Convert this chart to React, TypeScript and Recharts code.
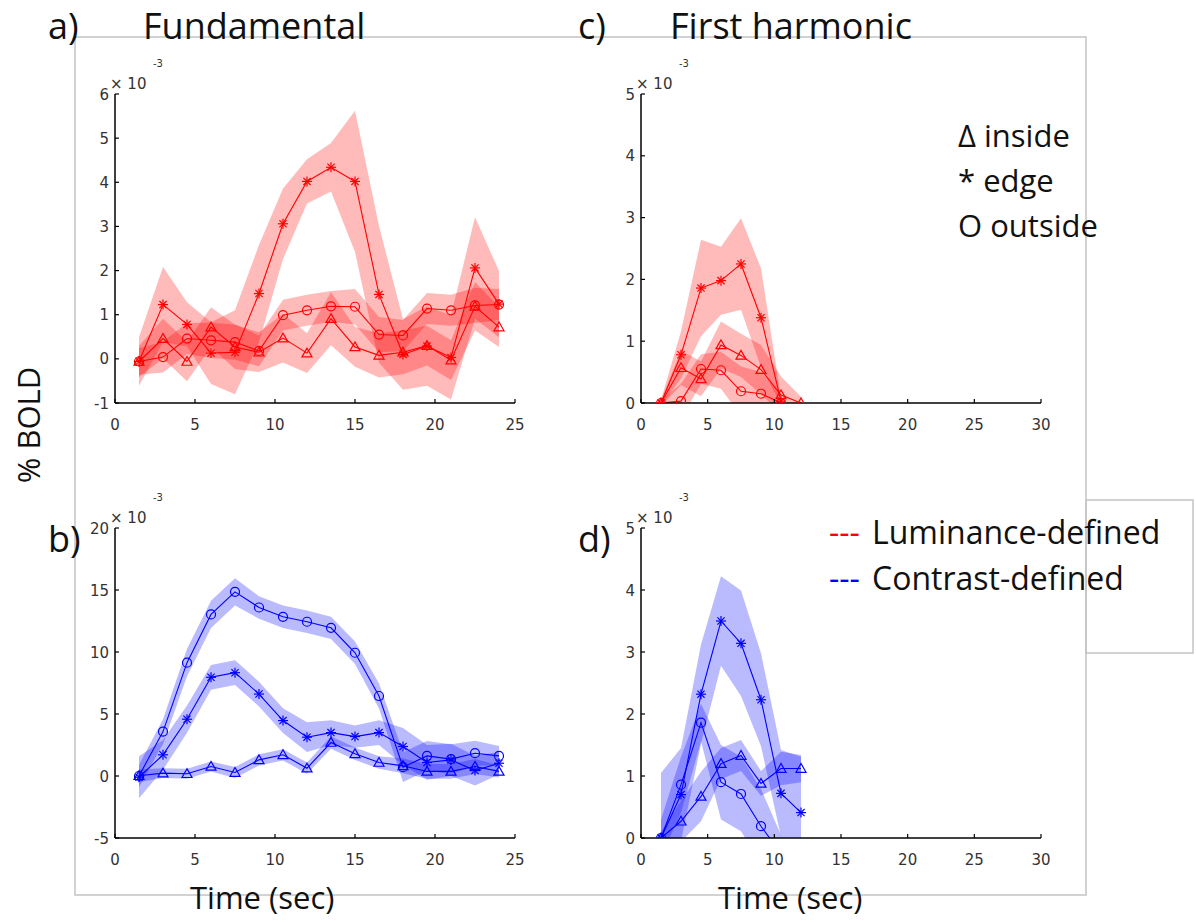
import React from 'react';
import { ComposedChart, Line, Area, XAxis, YAxis } from 'recharts';

// ---------- data (values ×10^-3 % BOLD) ----------
const timeFund = [1.5, 3, 4.5, 6, 7.5, 9, 10.5, 12, 13.5, 15, 16.5, 18, 19.5, 21, 22.5, 24];
const timeHarm8 = [1.5, 3, 4.5, 6, 7.5, 9, 10.5, 12];
const timeHarm7 = [1.5, 3, 4.5, 6, 7.5, 9, 10.5];

// a) Fundamental, luminance-defined
const fundLumEdge = [-0.06, 1.23, 0.78, 0.13, 0.15, 1.48, 3.06, 4.02, 4.34, 4.02, 1.46, 0.1, 0.29, 0.03, 2.06, 1.24];
const fundLumEdgeErr = [0.55, 0.85, 0.5, 0.7, 0.95, 1.1, 0.8, 0.5, 0.55, 1.6, 1.55, 0.8, 0.9, 0.95, 1.15, 0.75];
const fundLumOut = [-0.06, 0.04, 0.46, 0.42, 0.38, 0.18, 0.99, 1.1, 1.19, 1.18, 0.55, 0.53, 1.14, 1.1, 1.21, 1.23];
const fundLumOutErr = [0.3, 0.35, 0.35, 0.4, 0.4, 0.35, 0.35, 0.35, 0.35, 0.4, 0.4, 0.35, 0.35, 0.35, 0.4, 0.35];
const fundLumIn = [-0.06, 0.46, -0.06, 0.72, 0.27, 0.15, 0.47, 0.13, 0.91, 0.27, 0.08, 0.15, 0.3, -0.03, 1.19, 0.72];
const fundLumInErr = [0.35, 0.45, 0.45, 0.45, 0.5, 0.45, 0.55, 0.45, 0.6, 0.45, 0.5, 0.5, 0.45, 0.45, 0.55, 0.45];

// b) Fundamental, contrast-defined
const fundConOut = [0.0, 3.58, 9.14, 13.03, 14.85, 13.59, 12.84, 12.44, 11.95, 9.94, 6.45, 0.71, 1.62, 1.36, 1.84, 1.62];
const fundConOutErr = [0.9, 1.0, 1.1, 1.1, 1.1, 0.9, 0.9, 0.9, 0.9, 0.9, 1.0, 1.2, 1.2, 1.2, 1.0, 0.8];
const fundConEdge = [-0.1, 1.71, 4.58, 7.96, 8.33, 6.61, 4.47, 3.13, 3.5, 3.18, 3.5, 2.38, 1.09, 1.3, 0.44, 1.03];
const fundConEdgeErr = [1.7, 1.2, 1.1, 1.0, 1.0, 1.0, 1.0, 1.2, 1.0, 0.9, 1.0, 1.5, 1.4, 1.3, 1.2, 0.9];
const fundConIn = [0.02, 0.23, 0.18, 0.77, 0.28, 1.3, 1.71, 0.63, 2.7, 1.79, 1.09, 0.82, 0.37, 0.37, 0.77, 0.37];
const fundConInErr = [0.5, 0.4, 0.4, 0.4, 0.45, 0.45, 0.45, 0.45, 0.5, 0.5, 0.5, 0.6, 0.6, 0.6, 0.6, 0.5];

// c) First harmonic, luminance-defined
const harmLumEdge = [0, 0.78, 1.86, 1.98, 2.25, 1.38, 0.03];
const harmLumEdgeErr = [0.05, 0.38, 0.78, 0.55, 0.74, 0.8, 0.05];
const harmLumIn = [0, 0.57, 0.39, 0.94, 0.77, 0.54, 0.13, 0];
const harmLumInErr = [0.05, 0.28, 0.28, 0.38, 0.35, 0.4, 0.3, 0.1];
const harmLumOut = [0, 0.03, 0.55, 0.53, 0.19, 0.15, 0];
const harmLumOutErr = [0.05, 0.28, 0.24, 0.3, 0.4, 0.35, 0.15];

// d) First harmonic, contrast-defined
const harmConEdge = [0, 0.7, 2.32, 3.5, 3.14, 2.23, 0.72, 0.41];
const harmConEdgeErr = [1.05, 0.75, 0.8, 0.72, 0.85, 0.75, 0.7, 0.9];
const harmConOut = [0, 0.86, 1.86, 0.9, 0.71, 0.19, -0.25];
const harmConOutErr = [0.3, 0.45, 0.3, 0.6, 0.6, 0.6, 0.3];
const harmConIn = [0, 0.27, 0.67, 1.2, 1.33, 0.88, 1.12, 1.12];
const harmConInErr = [0.1, 0.33, 0.4, 0.25, 0.25, 0.2, 0.27, 0.22];

const xTicksFund = [0, 5, 10, 15, 20, 25];
const xTicksHarm = [0, 5, 10, 15, 20, 25, 30];
const yTicksA = [-1, 0, 1, 2, 3, 4, 5, 6];
const yTicksB = [-5, 0, 5, 10, 15, 20];
const yTicksCD = [0, 1, 2, 3, 4, 5];

// ---------- helpers ----------
type Row = { t: number; m: number; band: [number, number] };
const rows = (times: number[], mean: number[], err: number[]): Row[] =>
  mean.map((m, i) => ({ t: times[i], m, band: [m - err[i], m + err[i]] }));

type Shape = 'star' | 'circle' | 'tri';

const makeDot = (shape: Shape, color: string) => (props: any) => {
  const { cx, cy, index } = props;
  const k = `d-${shape}-${index}`;
  if (cx == null || cy == null) return <g key={k} />;
  if (shape === 'circle') {
    return <circle key={k} cx={cx} cy={cy} r={4.5} fill="none" stroke={color} strokeWidth={1.2} />;
  }
  if (shape === 'tri') {
    const s = 5;
    return (
      <polygon
        key={k}
        points={`${cx},${cy - s} ${cx - s},${cy + s * 0.75} ${cx + s},${cy + s * 0.75}`}
        fill="none"
        stroke={color}
        strokeWidth={1.2}
      />
    );
  }
  const r = 5;
  const d = r * 0.72;
  return (
    <g key={k} stroke={color} strokeWidth={1.2}>
      <line x1={cx - r} y1={cy} x2={cx + r} y2={cy} />
      <line x1={cx} y1={cy - r} x2={cx} y2={cy + r} />
      <line x1={cx - d} y1={cy - d} x2={cx + d} y2={cy + d} />
      <line x1={cx - d} y1={cy + d} x2={cx + d} y2={cy - d} />
    </g>
  );
};

const tickFont = { fontFamily: 'DejaVu Sans', fontSize: 15, fill: '#333' };

const XTick = (props: any) => {
  const { x, y, payload } = props;
  return (
    <g>
      <line x1={x} x2={x} y1={y} y2={y - 4} stroke="#000" strokeWidth={1.2} />
      <text x={x} y={y + 27} textAnchor="middle" {...tickFont}>
        {payload.value}
      </text>
    </g>
  );
};

const YTick = (props: any) => {
  const { x, y, payload } = props;
  return (
    <g>
      <line x1={x} x2={x + 4} y1={y} y2={y} stroke="#000" strokeWidth={1.2} />
      <text x={x - 6} y={y + 5.5} textAnchor="end" {...tickFont}>
        {payload.value}
      </text>
    </g>
  );
};

type Series = { data: Row[]; shape: Shape };

const Panel = ({
  left,
  top,
  height,
  xMax,
  xTicks,
  yDomain,
  yTicks,
  color,
  series,
}: {
  left: number;
  top: number;
  height: number;
  xMax: number;
  xTicks: number[];
  yDomain: [number, number];
  yTicks: number[];
  color: string;
  series: Series[];
}) => (
  <div style={{ position: 'absolute', left, top }}>
    <ComposedChart width={465} height={height} margin={{ top: 10, right: 10, bottom: 5, left: 15 }}>
      <XAxis
        type="number"
        dataKey="t"
        domain={[0, xMax]}
        ticks={xTicks}
        interval={0}
        height={30}
        tickSize={0}
        tickMargin={0}
        tickLine={false}
        axisLine={{ stroke: '#000', strokeWidth: 1.5 }}
        tick={<XTick />}
        allowDataOverflow
      />
      <YAxis
        type="number"
        domain={yDomain}
        ticks={yTicks}
        interval={0}
        width={40}
        tickSize={0}
        tickMargin={0}
        tickLine={false}
        axisLine={{ stroke: '#000', strokeWidth: 1.5 }}
        tick={<YTick />}
        allowDataOverflow
      />
      {series.map((s, i) => (
        <Area
          key={`a${i}`}
          data={s.data}
          dataKey="band"
          type="linear"
          stroke="none"
          fill={color}
          fillOpacity={0.27}
          isAnimationActive={false}
          dot={false}
          activeDot={false}
        />
      ))}
      {series.map((s, i) => (
        <Line
          key={`l${i}`}
          data={s.data}
          dataKey="m"
          type="linear"
          stroke={color}
          strokeWidth={1.1}
          dot={makeDot(s.shape, color)}
          activeDot={false}
          isAnimationActive={false}
        />
      ))}
    </ComposedChart>
  </div>
);

const Exponent = ({ ax, top }: { ax: number; top: number }) => (
  <g fontFamily="DejaVu Sans" fill="#333">
    <text x={ax - 5} y={top - 5} fontSize={15}>
      × 10
    </text>
    <text x={ax + 38} y={top - 27} fontSize={10}>
      -3
    </text>
  </g>
);

const RED = '#ff0000';
const BLUE = '#0000ff';

export default function App() {
  const txt = { fontFamily: 'Open Sans', fill: '#111' } as const;
  return (
    <div style={{ position: 'absolute', left: 0, top: 0, width: 1196, height: 922, background: '#fff' }}>
      <svg width={1196} height={922} style={{ position: 'absolute', left: 0, top: 0 }}>
        <rect x={75} y={37} width={1011} height={858} fill="none" stroke="#c4c4c4" strokeWidth={1.5} />
        <rect x={1086} y={500} width={107} height={153} fill="none" stroke="#c4c4c4" strokeWidth={1.5} />
      </svg>
      <Panel
        left={60}
        top={84}
        height={354}
        xMax={25}
        xTicks={xTicksFund}
        yDomain={[-1, 6]}
        yTicks={yTicksA}
        color={RED}
        series={[
          { data: rows(timeFund, fundLumEdge, fundLumEdgeErr), shape: 'star' },
          { data: rows(timeFund, fundLumOut, fundLumOutErr), shape: 'circle' },
          { data: rows(timeFund, fundLumIn, fundLumInErr), shape: 'tri' },
        ]}
      />
      <Panel
        left={586}
        top={84}
        height={354}
        xMax={30}
        xTicks={xTicksHarm}
        yDomain={[0, 5]}
        yTicks={yTicksCD}
        color={RED}
        series={[
          { data: rows(timeHarm7, harmLumEdge, harmLumEdgeErr), shape: 'star' },
          { data: rows(timeHarm7, harmLumOut, harmLumOutErr), shape: 'circle' },
          { data: rows(timeHarm8, harmLumIn, harmLumInErr), shape: 'tri' },
        ]}
      />
      <Panel
        left={60}
        top={518}
        height={355}
        xMax={25}
        xTicks={xTicksFund}
        yDomain={[-5, 20]}
        yTicks={yTicksB}
        color={BLUE}
        series={[
          { data: rows(timeFund, fundConOut, fundConOutErr), shape: 'circle' },
          { data: rows(timeFund, fundConEdge, fundConEdgeErr), shape: 'star' },
          { data: rows(timeFund, fundConIn, fundConInErr), shape: 'tri' },
        ]}
      />
      <Panel
        left={586}
        top={518}
        height={355}
        xMax={30}
        xTicks={xTicksHarm}
        yDomain={[0, 5]}
        yTicks={yTicksCD}
        color={BLUE}
        series={[
          { data: rows(timeHarm8, harmConEdge, harmConEdgeErr), shape: 'star' },
          { data: rows(timeHarm7, harmConOut, harmConOutErr), shape: 'circle' },
          { data: rows(timeHarm8, harmConIn, harmConInErr), shape: 'tri' },
        ]}
      />
      <svg
        width={1196}
        height={922}
        style={{ position: 'absolute', left: 0, top: 0, pointerEvents: 'none' }}
      >
        <Exponent ax={115} top={94} />
        <Exponent ax={641} top={94} />
        <Exponent ax={115} top={528} />
        <Exponent ax={641} top={528} />
        <g {...txt} fontSize={36}>
          <text x={48} y={39}>a)</text>
          <text x={143} y={39}>Fundamental</text>
          <text x={578} y={39}>c)</text>
          <text x={670} y={39}>First harmonic</text>
          <text x={48} y={552}>b)</text>
          <text x={578} y={552}>d)</text>
        </g>
        <g {...txt} fontSize={31}>
          <text x={40} y={425} textAnchor="middle" transform="rotate(-90 40 425)">
            % BOLD
          </text>
          <text x={190} y={909}>Time (sec)</text>
          <text x={718} y={909}>Time (sec)</text>
          <text x={958} y={147}>Δ inside</text>
          <text x={958} y={192}>* edge</text>
          <text x={958} y={237}>O outside</text>
        </g>
        <g {...txt} fontSize={32}>
          <text x={829} y={544} fill={RED}>---</text>
          <text x={872} y={544}>Luminance-defined</text>
          <text x={829} y={590} fill={BLUE}>---</text>
          <text x={872} y={590}>Contrast-defined</text>
        </g>
      </svg>
    </div>
  );
}
